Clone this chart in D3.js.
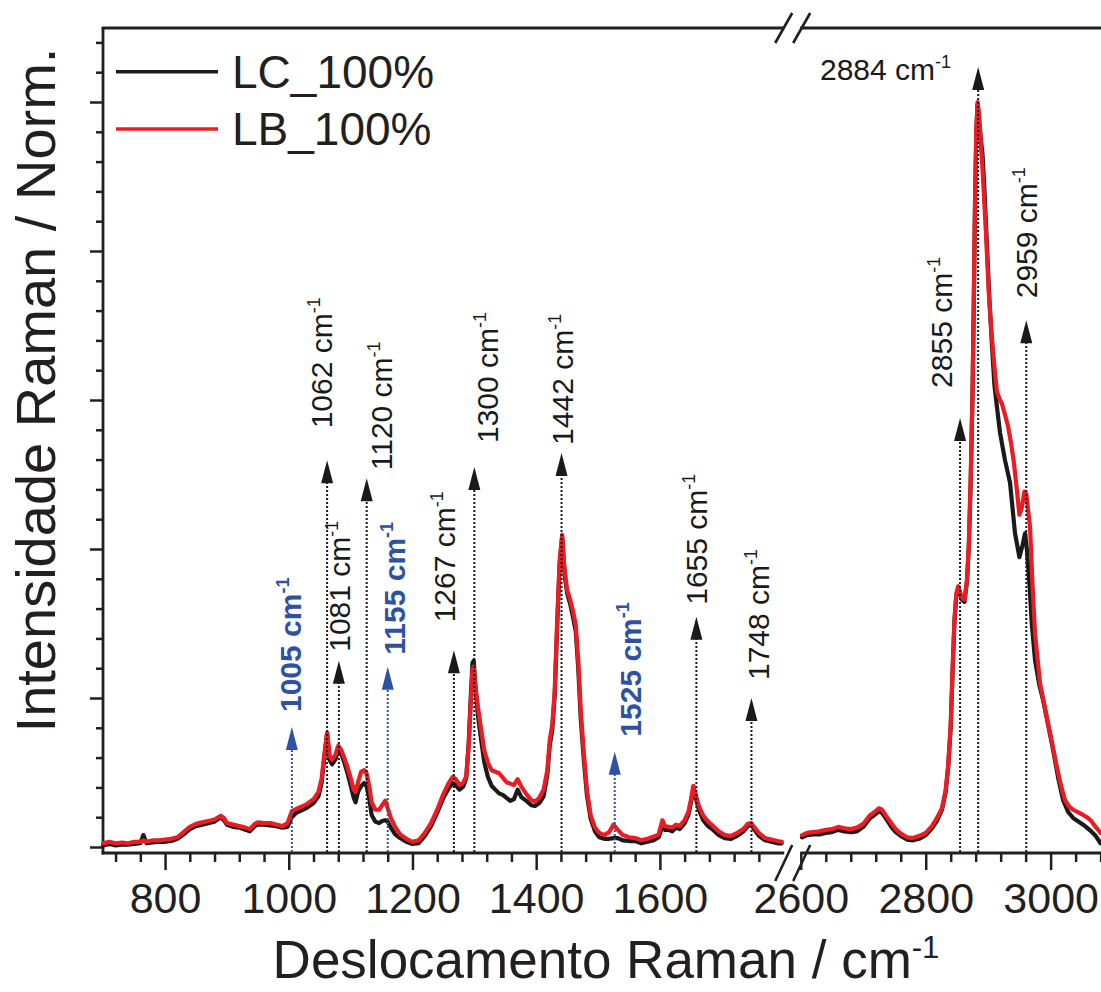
<!DOCTYPE html>
<html><head><meta charset="utf-8">
<script src="https://cdn.jsdelivr.net/npm/d3@7"></script>
<style>body{margin:0;background:#fff}svg{display:block}</style>
</head><body><svg id="c" width="1101" height="992"></svg>
<script>
// ---------- DATA ----------
const seriesNames = ["LC_100%", "LB_100%"];
const leftWn = [700,710,720,730,740,750,760,765,770,780,
790,800,810,820,830,840,850,860,870,880,
890,895,900,910,920,930,937,945,950,960,
970,980,990,998,1005,1012,1020,1030,1040,1048,
1053,1058,1062,1066,1070,1075,1080,1085,1090,1095,
1100,1105,1108,1112,1117,1122,1126,1130,1134,1140,
1146,1151,1156,1160,1165,1172,1180,1190,1200,1210,
1220,1230,1240,1250,1258,1265,1270,1276,1282,1287,
1291,1294,1297,1299,1302,1306,1310,1316,1322,1328,
1334,1340,1346,1352,1358,1364,1370,1376,1384,1392,
1398,1405,1412,1418,1422,1426,1430,1434,1438,1442,
1446,1450,1455,1460,1464,1468,1472,1477,1482,1488,
1495,1502,1510,1518,1525,1532,1540,1550,1560,1570,
1580,1590,1598,1604,1608,1614,1620,1626,1632,1640,
1646,1650,1654,1658,1663,1670,1678,1686,1695,1705,
1715,1725,1735,1742,1748,1753,1760,1770,1780,1790,
1797];
const lbLeft = [0.5,0.7,0.5,0.6,0.5,0.7,0.7,0.9,0.7,0.9,
0.9,1.0,1.1,1.3,2.0,2.7,3.1,3.3,3.5,3.7,
4.2,3.9,3.2,3.0,2.8,2.6,2.4,3.1,3.3,3.2,
3.2,3.0,2.8,3.2,4.8,5.1,5.4,5.8,6.4,7.4,
9.1,12.8,15.3,12.3,11.7,12.3,13.6,13.0,11.9,10.7,
9.3,7.7,7.4,8.7,10.1,10.3,9.8,8.2,6.0,5.0,
5.0,5.6,6.2,5.2,3.9,2.7,1.7,1.1,0.7,0.9,
1.9,3.2,5.0,7.1,8.5,9.4,9.1,8.3,8.6,9.5,
13.7,19.1,23.8,24.2,21.5,18.7,16.4,13.0,11.3,10.3,
10.1,9.9,9.3,8.7,8.5,8.3,9.1,8.1,7.1,6.3,
6.1,6.6,7.7,10.3,14.4,16.4,21.1,30.5,38.5,41.9,
37.2,34.5,33.2,31.5,29.8,25.1,18.4,12.6,7.7,4.3,
2.6,1.9,1.6,2.0,3.0,2.3,1.6,1.3,1.2,0.9,
1.1,1.4,1.7,3.6,2.8,2.7,2.6,3.0,2.8,3.6,
4.7,6.3,8.2,7.0,5.5,4.2,3.4,2.8,2.1,1.6,
1.5,1.9,2.4,3.1,3.2,2.6,1.9,1.2,1.0,0.8,
0.7];
const lcLeft = [0.2,0.4,0.2,0.3,0.3,0.4,0.5,1.6,0.5,0.6,
0.7,0.7,0.8,1.1,1.7,2.4,2.8,3.0,3.2,3.4,
4.0,3.6,3.0,2.7,2.6,2.3,2.1,2.8,3.0,3.0,
2.9,2.8,2.6,2.7,4.0,4.6,4.9,5.3,5.9,6.8,
8.6,12.3,15.3,11.7,11.1,11.7,13.0,12.5,11.3,9.9,
8.3,6.6,6.0,7.4,8.2,8.6,8.1,6.6,4.3,3.4,
3.2,3.5,3.6,3.4,2.6,1.7,1.2,0.7,0.4,0.5,
1.5,2.8,4.6,6.6,7.8,8.6,8.3,7.7,8.1,9.3,
14.1,19.7,24.7,25.0,21.1,17.6,15.0,11.4,9.4,8.2,
7.7,7.2,7.0,6.6,6.2,6.4,7.7,6.7,6.2,5.6,
5.5,5.9,6.8,9.7,13.7,15.7,20.4,29.8,38.1,41.6,
36.5,34.1,32.6,30.7,28.9,24.0,17.3,11.7,7.0,3.8,
2.1,1.3,1.1,1.1,1.2,1.2,0.9,0.8,0.8,0.5,
0.7,0.9,1.3,2.8,2.3,2.3,2.1,2.6,2.4,3.2,
4.3,5.9,7.8,6.6,5.0,3.6,2.8,2.3,1.6,1.2,
1.1,1.5,2.1,2.8,3.0,2.3,1.5,0.9,0.7,0.5,
0.5];
const rightWnLB = [2602,2610,2620,2630,2640,2650,2660,2670,2680,2690,
2700,2710,2718,2725,2730,2738,2745,2752,2760,2770,
2780,2790,2800,2810,2818,2826,2832,2836,2840,2843,
2846,2849,2852,2855,2858,2862,2866,2869,2872,2875,
2877,2879,2881,2883,2885,2888,2891,2896,2901,2905,
2909,2914,2919,2922,2927,2932,2937,2941,2946,2950,
2954,2958,2961,2964,2967,2971,2975,2983,2994,3002,
3010,3017,3023,3030,3036,3045,3052,3058,3065,3072,
3080];
const lbRight = [1.6,1.9,2.0,2.1,2.3,2.4,2.7,2.5,2.4,2.6,
3.1,4.2,4.7,5.2,5.0,4.0,3.2,2.4,1.8,1.3,
1.2,1.5,1.9,2.8,3.9,5.2,7.7,11.0,16.4,23.8,
30.5,34.0,35.0,34.2,33.4,33.2,35.8,40.5,49.3,61.3,
73.4,86.8,96.2,100.0,98.7,94.9,90.9,83.2,74.4,69.4,
65.4,61.1,60.0,59.5,58.0,56.4,54.0,51.7,47.9,44.6,
45.6,47.7,47.4,45.2,43.0,35.2,28.7,22.0,17.4,14.1,
10.7,8.1,6.3,5.4,5.0,4.6,4.3,4.0,3.5,2.7,
1.9];
const rightWnLC = [2602,2610,2620,2630,2640,2650,2660,2670,2680,2690,
2700,2710,2718,2725,2730,2738,2745,2752,2760,2770,
2780,2790,2800,2810,2818,2826,2832,2836,2840,2843,
2846,2849,2852,2855,2858,2862,
2866,2869,2872,2875,2877,2879,2881,2883,2885,2888,
2891,2894,2898,2902,2906,2910,2914,2919,2927,2935,
2943,2950,2955,2959,2962,2966,2970,2975,2982,2988,
2996,3004,3012,3020,3028,3036,3045,3052,3058,3065,
3072,3080];
const lcRight = [1.3,1.6,1.7,1.7,1.9,2.0,2.3,2.1,2.0,2.1,
2.7,3.8,4.3,4.8,4.6,3.6,2.7,2.0,1.5,1.0,
0.9,1.1,1.6,2.5,3.5,5.0,7.4,10.7,16.1,23.5,
30.2,33.7,34.8,34.0,33.2,32.9,
35.6,40.3,49.0,61.1,73.2,86.6,96.0,99.7,97.9,95.2,
92.9,88.2,80.8,73.4,67.4,62.0,59.1,55.6,51.9,48.9,
42.1,38.9,40.5,42.1,39.9,35.4,29.8,25.1,21.7,19.7,
16.4,13.0,9.3,6.3,4.7,3.9,3.4,3.0,2.6,2.1,
1.5,0.5];
const xTicksLeft = [800,1000,1200,1400,1600];
const xTicksRight = [2600,2800,3000];
// Peak annotations (label, drawn position in cm-1, arrow tip height in plot units, blue bold?)
const peakLabels = ["1005","1062","1081","1120","1155","1267","1300","1442","1525","1655","1748","2855","2884","2959"];
const peakPos    = [1005,1062,1081,1126,1160,1267,1300,1441,1527,1659,1748,2855,2884,2961];
const peakTip    = [16.1,51.9,25.0,49.5,24.2,26.4,51.0,52.9,12.8,30.9,20.0,57.6,104.7,70.7];
const peakBlue   = [true,false,false,false,true,false,false,false,true,false,false,false,false,false];

// ---------- LAYOUT ----------
const F = '"Liberation Sans", Arial, Helvetica, sans-serif';
const AX = '#231f20', RED = '#ec1c24', BLK = '#1a1a1a', BLUE = '#2e51a2';
// label placement: [baseline offset from arrow x, gap above arrow tip] ; 2884 is horizontal
const labelLayout = [[9,15],[5,32],[11,9],[25,8],[17,12],[1,28],[24,24],[11,8],[26,15],[11,12],[18,18],[-8,30],[null,null],[11,22]];

const svg = d3.select("#c");
const xL = d3.scaleLinear().domain([700,1800]).range([103.2,783.6]);
const xR = d3.scaleLinear().domain([2600,3080]).range([800.8,1100.6]);
const y  = d3.scaleLinear().domain([0,100]).range([847,102]);
const xAny = w => w < 2200 ? xL(w) : xR(w);
const yTop = 28, yBot = 853, xLeft = 103;
const breakX = (xL(1800) + xR(2600)) / 2;

function styleAxis(g){ g.select(".domain").remove(); g.selectAll(".tick line").attr("stroke",AX).attr("stroke-width",2.5); }

// y ticks
const yMajor = [0,20,40,60,80,100];
const yMinor = d3.range(4,109,4).filter(v => v % 20 !== 0);
svg.append("g").attr("transform",`translate(${xLeft},0)`).call(d3.axisLeft(y).tickValues(yMajor).tickSize(13).tickFormat("")).call(styleAxis);
svg.append("g").attr("transform",`translate(${xLeft},0)`).call(d3.axisLeft(y).tickValues(yMinor).tickSize(7).tickFormat("")).call(styleAxis);

// x ticks
function xAxis(scale, major, minor){
  svg.append("g").attr("transform",`translate(0,${yBot})`).call(d3.axisBottom(scale).tickValues(minor).tickSize(9).tickFormat("")).call(styleAxis);
  const g = svg.append("g").attr("transform",`translate(0,${yBot})`).call(d3.axisBottom(scale).tickValues(major).tickSize(17).tickFormat(d3.format("d"))).call(styleAxis);
  g.selectAll(".tick text").attr("y",60).attr("dy",0).attr("fill","#231f20")
    .style("font-family",F).style("font-size","43px");
}
xAxis(xL, xTicksLeft, d3.range(720,1780,40).filter(v => !xTicksLeft.includes(v)));
xAxis(xR, xTicksRight, d3.range(2640,3081,40).filter(v => !xTicksRight.includes(v)));

// frame lines
const frame = svg.append("g").attr("stroke",AX).attr("stroke-width",2.8).attr("fill","none");
frame.append("path").attr("d",`M${xLeft},${yTop}V${yBot+1.4}`);
frame.append("path").attr("d",`M${xLeft-1.4},${yBot}H${breakX-8}M${breakX+8},${yBot}H1101`);
frame.append("path").attr("d",`M${xLeft-1.4},${yTop}H${breakX-8}M${breakX+8},${yTop}H1101`);
// break marks
const brk = svg.append("g").attr("stroke",AX).attr("stroke-width",2.6).attr("fill","none");
[[yBot+10,18],[yTop,15]].forEach(([cy,h]) => {
  brk.append("path").attr("d",`M${breakX-17},${cy+h}L${breakX},${cy-h}M${breakX+1},${cy+h}L${breakX+18},${cy-h}`);
});

// curves
const line = xs => d3.line().x(d => xs(d[0])).y(d => y(d[1]));
const pairs = (w,v) => w.map((d,i) => [d, v[i]]);
const plot = svg.append("g").attr("fill","none").attr("stroke-linejoin","round").attr("stroke-linecap","round");
plot.append("path").attr("d", line(xL)(pairs(leftWn,lcLeft))).attr("stroke",BLK).attr("stroke-width",4.2);
plot.append("path").attr("d", line(xR)(pairs(rightWnLC,lcRight))).attr("stroke",BLK).attr("stroke-width",4.2);
plot.append("path").attr("d", line(xL)(pairs(leftWn,lbLeft))).attr("stroke",RED).attr("stroke-width",4.2);
plot.append("path").attr("d", line(xR)(pairs(rightWnLB,lbRight))).attr("stroke",RED).attr("stroke-width",4.2);

// annotations
const ann = svg.append("g");
peakLabels.forEach((lab,i) => {
  const x = xAny(peakPos[i]), tip = y(peakTip[i]);
  const col = peakBlue[i] ? BLUE : BLK;
  ann.append("line").attr("x1",x).attr("x2",x).attr("y1",yBot-1).attr("y2",tip+18)
    .attr("stroke",col).attr("stroke-width",2).attr("stroke-dasharray","2,2");
  ann.append("path").attr("d",`M${x},${tip}L${x-6},${tip+23}L${x+6},${tip+23}Z`).attr("fill",col);
  let t;
  if (labelLayout[i][0] === null) {
    t = ann.append("text").attr("x",820).attr("y",80);
  } else {
    t = ann.append("text").attr("transform",`translate(${x+labelLayout[i][0]},${tip-labelLayout[i][1]}) rotate(-90)`);
  }
  t.style("font-family",F).style("font-size","30px").style("font-weight",peakBlue[i]?"bold":"normal").attr("fill",col);
  t.append("tspan").text(lab + " cm");
  t.append("tspan").attr("dy",-12).style("font-size","18px").text("-1");
});

// legend
const leg = svg.append("g");
[BLK,RED].forEach((c,i) => {
  const ly = [71.7,129][i];
  leg.append("line").attr("x1",116).attr("x2",218).attr("y1",ly).attr("y2",ly).attr("stroke",c).attr("stroke-width",3.6);
  leg.append("text").attr("x",232).attr("y",[88,145][i]).text(seriesNames[i])
    .style("font-family",F).style("font-size","46px").attr("fill","#231f20");
});

// axis titles
const xt = svg.append("text").attr("x",606).attr("y",978).attr("text-anchor","middle")
  .style("font-family",F).style("font-size","53px").attr("fill","#231f20");
xt.append("tspan").text("Deslocamento Raman / cm");
xt.append("tspan").attr("dy",-20).style("font-size","31px").text("-1");
svg.append("text").attr("transform","translate(55,390) rotate(-90)").attr("text-anchor","middle")
  .style("font-family",F).style("font-size","56px").attr("fill","#231f20").text("Intensidade Raman / Norm.");
</script></body></html>
